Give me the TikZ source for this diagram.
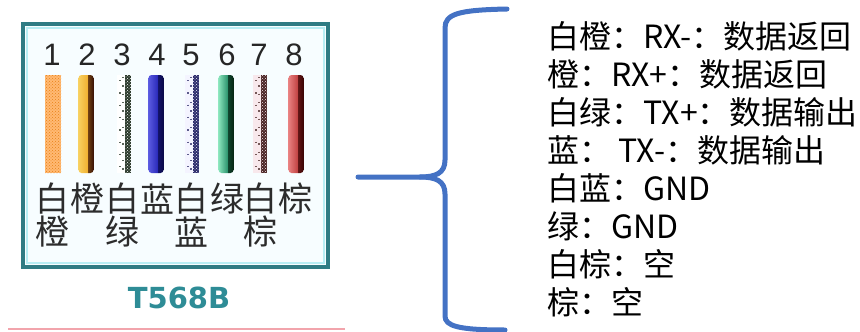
\documentclass[tikz,border=0pt]{standalone}
\usepackage{fontspec}
\setmainfont{Liberation Sans}
\newfontfamily\cjk{Noto Sans CJK SC}
\newfontfamily\heavy{DejaVu Sans}
\usetikzlibrary{patterns}

\definecolor{frameteal}{HTML}{2F7C84}
\definecolor{framecyan}{HTML}{B8EEF4}
\definecolor{titleteal}{HTML}{2E8C96}
\definecolor{labelgray}{HTML}{2C2C2C}
\definecolor{braceblue}{HTML}{4472C4}
\definecolor{underline}{HTML}{F2A4AC}

\tikzset{
  pinnum/.style={font=\fontsize{31}{31}\selectfont, text=black!85, inner sep=0pt},
  colorname/.style={font=\cjk\fontsize{34}{34}\selectfont, text=labelgray, inner sep=0pt},
  legend/.style={font=\cjk\fontsize{32}{32}\selectfont, anchor=base west, inner sep=0pt},
}

\begin{document}
\begin{tikzpicture}[x=1pt,y=-1pt]
    \useasboundingbox (0,0) rectangle (860,332);

    % card frame
    \fill[cyan!3] (23,24) rectangle (328,267);
    \draw[framecyan, line width=1.5pt] (27,28) rectangle (324,263);
    \draw[frameteal, line width=4pt] (23,24) rectangle (328,267);

    % solid wires: light left part, dark right part
    \foreach \x/\l/\m/\r in {86/F8D060/F0B030/3A1206, 156/5A5AE0/2828B8/0A0A48,
                             226/8AE4BC/28906A/062614, 296/E88080/C04040/3A0404}{
        \definecolor{wl}{HTML}{\l}
        \definecolor{wm}{HTML}{\m}
        \definecolor{wr}{HTML}{\r}
        \begin{scope}
            \clip[rounded corners=3pt] (\x-7.5,75) rectangle (\x+7.5,173);
            \shade[left color=wl, right color=wm] (\x-7.5,75) rectangle (\x+2,173);
            \shade[left color=wr!70!wm, right color=wr] (\x+2,75) rectangle (\x+7.5,173);
        \end{scope}
    }

    % speckled wires
    \fill[orange!55!white] (45,75) rectangle (61,173);
    \fill[pattern=crosshatch dots, pattern color=orange!65!brown] (45,75) rectangle (61,173);
    \foreach \x/\d/\b in {124/142414/FFFFFF, 192/16165A/F4F4FF, 260/381010/F8E8EC}{
        \definecolor{wd}{HTML}{\d}
        \definecolor{wb}{HTML}{\b}
        \fill[wb] (\x-7,75) rectangle (\x+7,173);
        \draw[wd!70, line width=1.3pt, dash pattern=on 1.3pt off 11pt] (\x-4,80) -- (\x-4,172);
        \draw[wd!70, line width=1.3pt, dash pattern=on 1.3pt off 7pt] (\x-1,77) -- (\x-1,172);
        \fill[wd, opacity=0.9] (\x+1,75) rectangle (\x+7,173);
        \fill[pattern=crosshatch dots, pattern color=wb] (\x+1,75) rectangle (\x+7,173);
    }

    % pin numbers and colour names
    \foreach \x [count=\i] in {52,87,122,157,191,227,259,294}
        \node[pinnum] (pin\i) at (\x,55) {\i};

    \foreach \x/\t [count=\i] in {52/白,87/橙,122/白,157/蓝,191/白,227/绿,260/白,295/棕}
        \node[colorname] (top\i) at (\x,199) {\t};
    \foreach \x/\t [count=\i] in {52/橙,122/绿,191/蓝,260/棕}
        \node[colorname] (bot\i) at (\x,232) {\t};

    \node[font=\heavy\bfseries\fontsize{29}{29}\selectfont, text=titleteal, inner sep=0pt]
        (std) at (179,298) {T568B};
    \draw[underline, line width=2pt] (8,329) -- (345,329);

    % brace
    \coordinate (tip) at (358,177);
    \coordinate (cusp) at (420,177);
    \coordinate (top) at (507,9);
    \coordinate (bottom) at (505,330);
    \draw[braceblue, line width=5pt, line cap=round]
        (tip) -- (cusp)
        .. controls (436,177) and (445,173) .. (445,160) -- (445,28)
        .. controls (445,14) and (458,10) .. (top);
    \draw[braceblue, line width=5pt, line cap=round]
        (cusp) .. controls (436,177) and (445,181) .. (445,194) -- (445,316)
        .. controls (445,326) and (458,330) .. (bottom);

    % wire meanings
    \foreach \t [count=\i] in {白橙：RX-：数据返回, 橙：RX+：数据返回, 白绿：TX+：数据输出,
                               蓝： TX-：数据输出, 白蓝：GND, 绿：GND, 白棕：空, 棕：空}
        \node[legend] (line\i) at (547,{48+38*(\i-1)}) {\t};
\end{tikzpicture}
\end{document}
